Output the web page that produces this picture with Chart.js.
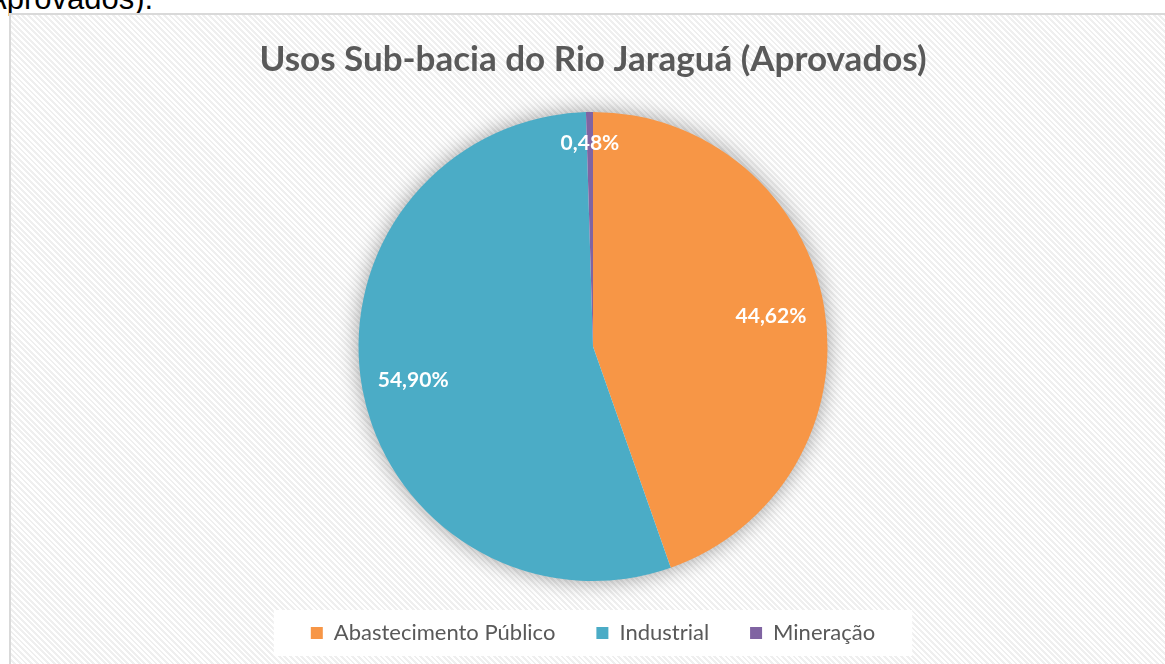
<!DOCTYPE html>
<html>
<head>
<meta charset="utf-8">
<script src="https://cdn.jsdelivr.net/npm/chart.js@4.4.1/dist/chart.umd.min.js"></script>
<style>
  html, body { margin: 0; padding: 0; background: #fff; overflow: hidden; }
  body { width: 1165px; height: 664px; position: relative; }
  #doc-text {
    position: absolute; left: -14px; top: -17px;
    font: 31px/31px "Liberation Sans", Arial, sans-serif; color: #000;
    white-space: nowrap;
  }
  #frame {
    position: absolute; left: 9px; top: 13px; width: 1170px; height: 700px;
    border: 2px solid #d9d9d9;
    background: repeating-linear-gradient(45deg, #ffffff 0px, #ffffff 2px, #efefef 2px, #efefef 4px);
  }
  #wrap { position: absolute; left: 0; top: 0; width: 1165px; height: 664px; }
</style>
</head>
<body>
<div id="doc-text">Aprovados).</div>
<div id="frame"></div>
<div id="wrap"><canvas id="pie"></canvas></div>
<script>
(() => {
  'use strict';

  const categories = ['Abastecimento Público', 'Industrial', 'Mineração'];
  const shares = [44.62, 54.90, 0.48];
  const colors = ['#f79646', '#4bacc6', '#8064a2'];
  // how far out (fraction of radius) each value label sits
  const labelDist = [0.77, 0.78, 0.865];

  const fmt = v => v.toFixed(2).replace('.', ',') + '%';

  const pieShadow = {
    id: 'pieShadow',
    beforeDatasetsDraw(chart) {
      const arc = chart.getDatasetMeta(0).data[0];
      if (!arc) return;
      const { x, y, outerRadius } = arc.getProps(['x', 'y', 'outerRadius'], true);
      const ctx = chart.ctx;
      ctx.save();
      ctx.shadowColor = 'rgba(0,0,0,0.4)';
      ctx.shadowBlur = 22;
      ctx.fillStyle = '#ffffff';
      ctx.beginPath();
      ctx.arc(x, y, outerRadius - 1, 0, Math.PI * 2);
      ctx.fill();
      ctx.restore();
    }
  };

  const legendBox = {
    id: 'legendBox',
    beforeDraw(chart) {
      const boxes = chart.legend && chart.legend.legendHitBoxes;
      if (!boxes || !boxes.length) return;
      const left = Math.min(...boxes.map(b => b.left)) - 37;
      const right = Math.max(...boxes.map(b => b.left + b.width)) + 37;
      const mid = boxes[0].top + boxes[0].height / 2;
      const ctx = chart.ctx;
      ctx.save();
      ctx.fillStyle = '#ffffff';
      ctx.fillRect(left, mid - 23, right - left, 46);
      ctx.restore();
    }
  };

  const valueLabels = {
    id: 'valueLabels',
    afterDatasetsDraw(chart) {
      const ctx = chart.ctx;
      const ds = chart.data.datasets[0];
      ctx.save();
      ctx.font = 'bold 21px Lato, sans-serif';
      ctx.fillStyle = '#ffffff';
      ctx.textAlign = 'center';
      ctx.textBaseline = 'middle';
      chart.getDatasetMeta(0).data.forEach((arc, i) => {
        const p = arc.getProps(['x', 'y', 'startAngle', 'endAngle', 'outerRadius'], true);
        const a = (p.startAngle + p.endAngle) / 2;
        const r = p.outerRadius * labelDist[i];
        ctx.fillText(fmt(ds.data[i]), p.x + Math.cos(a) * r, p.y + Math.sin(a) * r);
      });
      ctx.restore();
    }
  };

  new Chart(document.getElementById('pie'), {
    type: 'pie',
    data: {
      labels: categories,
      datasets: [{
        data: shares,
        backgroundColor: colors,
        borderWidth: 0
      }]
    },
    options: {
      responsive: true,
      maintainAspectRatio: false,
      animation: false,
      layout: { padding: { left: 21, right: 0, top: 0, bottom: 10 } },
      plugins: {
        title: {
          display: true,
          text: 'Usos Sub-bacia do Rio Jaraguá (Aprovados)',
          color: '#595959',
          font: { family: 'Lato, sans-serif', size: 35, weight: 'bold', lineHeight: 1.2 },
          padding: { top: 39, bottom: 31 }
        },
        legend: {
          position: 'bottom',
          labels: {
            boxWidth: 12,
            boxHeight: 12,
            padding: 41,
            color: '#595959',
            font: { family: 'Lato, sans-serif', size: 22 }
          }
        },
        tooltip: { enabled: false }
      }
    },
    plugins: [legendBox, pieShadow, valueLabels]
  });
})();
</script>
</body>
</html>
